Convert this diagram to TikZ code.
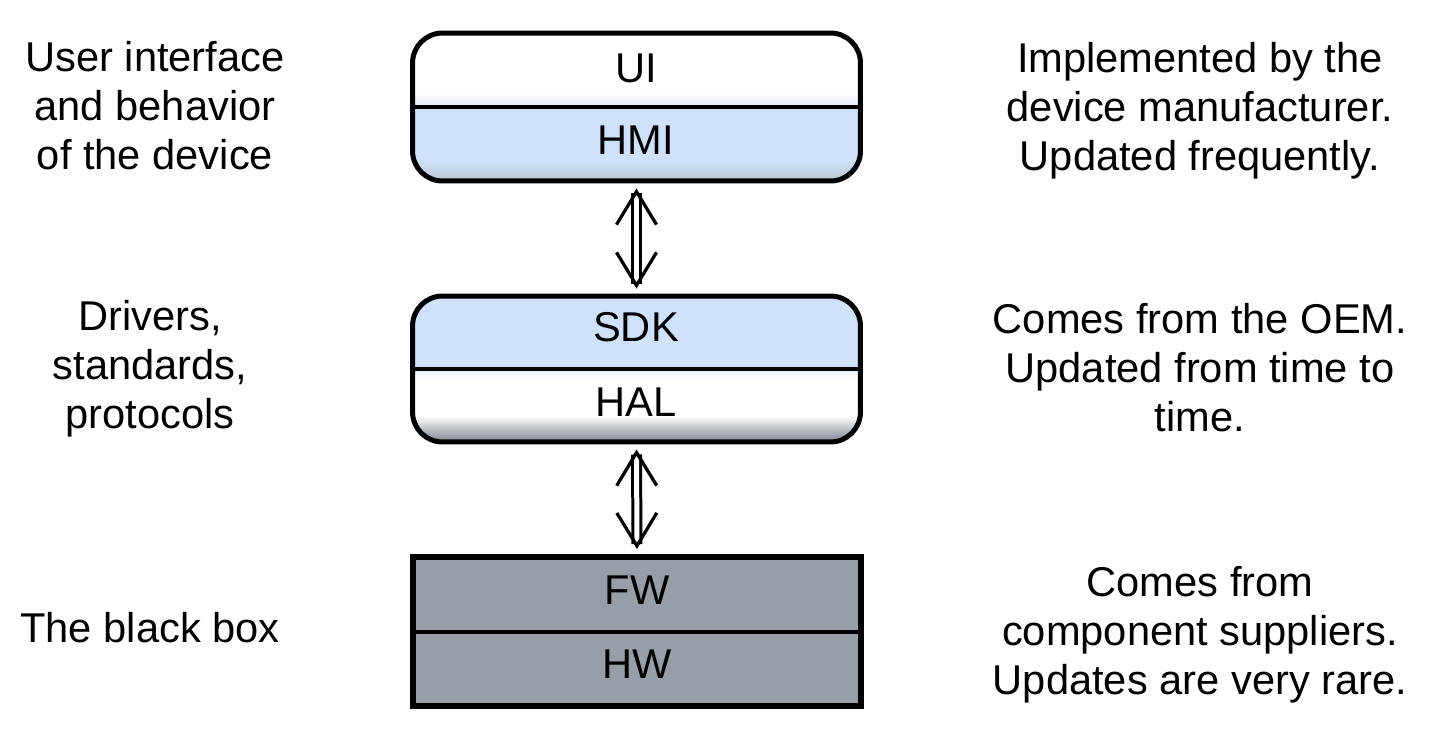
\documentclass[tikz,border=0pt]{standalone}
\usepackage{fontspec}
\setmainfont{Liberation Sans}
\usetikzlibrary{arrows.meta}

\definecolor{layerblue}{RGB}{207,226,250}
\definecolor{tintblue}{RGB}{228,238,251}
\definecolor{hmigray}{RGB}{190,197,207}
\definecolor{halgray}{RGB}{125,133,144}
\definecolor{hwgray}{RGB}{151,158,168}

% shadings span 25bp (bottom of the box) to 75bp (top of the box)
\pgfdeclareverticalshading{topshade}{100bp}{color(0bp)=(hmigray); color(25bp)=(hmigray);
  color(32bp)=(layerblue); color(50.3bp)=(layerblue); color(50.4bp)=(tintblue);
  color(54.7bp)=(white); color(100bp)=(white)}
\pgfdeclareverticalshading{midshade}{100bp}{color(0bp)=(halgray); color(25bp)=(halgray);
  color(34bp)=(white); color(46.6bp)=(white); color(49.9bp)=(tintblue);
  color(50.1bp)=(layerblue); color(100bp)=(layerblue)}

\tikzset{
  txt/.style={font=\fontsize{23.7}{27.9}\selectfont, align=center},
  stack/.style={draw, line width=0.1cm, minimum width=8.96cm, inner sep=0pt},
  divider/.style={line width=0.08cm},
  link/.style={draw=none, tips=true, line width=0.065cm,
    {Straight Barb[length=0.66cm, width=0.8cm]}-{Straight Barb[length=0.66cm, width=0.8cm]},
    shorten <=0.1cm, shorten >=0.1cm,
    preaction={draw, -, double, double distance=0.1cm, line width=0.06cm,
      shorten <=0.2cm, shorten >=0.2cm}}
}

\begin{document}
\begin{tikzpicture}[x=0.02cm, y=-0.02cm]
  \useasboundingbox (0,0) rectangle (1434,731);

  % the three blocks
  \node [stack, rounded corners=0.6cm, minimum height=2.96cm, shading=topshade] (app) at (636.5,107) {};
  \node [stack, rounded corners=0.6cm, minimum height=2.92cm, shading=midshade] (sdkhal) at (636.5,369) {};
  \node [stack, line width=0.12cm, minimum height=2.98cm, fill=hwgray] (fwhw) at (637,631.5) {};

  \draw [divider] (app.west) -- (app.east);
  \draw [divider] (sdkhal.west) -- (sdkhal.east);
  \draw [divider] (fwhw.west) -- (fwhw.east);

  \node [txt] (ui) at (636,68) {UI};
  \node [txt] (hmi) at (636,140) {HMI};
  \node [txt] (sdk) at (636,327) {SDK};
  \node [txt] (hal) at (636,402) {HAL};
  \node [txt] (fw) at (637,590) {FW};
  \node [txt] (hw) at (637,664) {HW};

  \draw [link] (app.south) -- (sdkhal.north);
  \draw [link] (sdkhal.south) -- (fwhw.north);

  % left column
  \node [txt] (appdesc) at (155,106) {User interface\\and behavior\\of the device};
  \node [txt] (drvdesc) at (150,369) {Drivers,\\standards,\\protocols};
  \node [txt] (boxdesc) at (150,628) {The black box};

  % right column
  \node [txt] (appsrc) at (1200,111) {Implemented by the\\device manufacturer.\\Updated frequently.};
  \node [txt] (sdksrc) at (1200,368) {Comes from the OEM.\\Updated from time to\\time.};
  \node [txt] (fwsrc) at (1200,635) {Comes from\\component suppliers.\\Updates are very rare.};
\end{tikzpicture}
\end{document}
